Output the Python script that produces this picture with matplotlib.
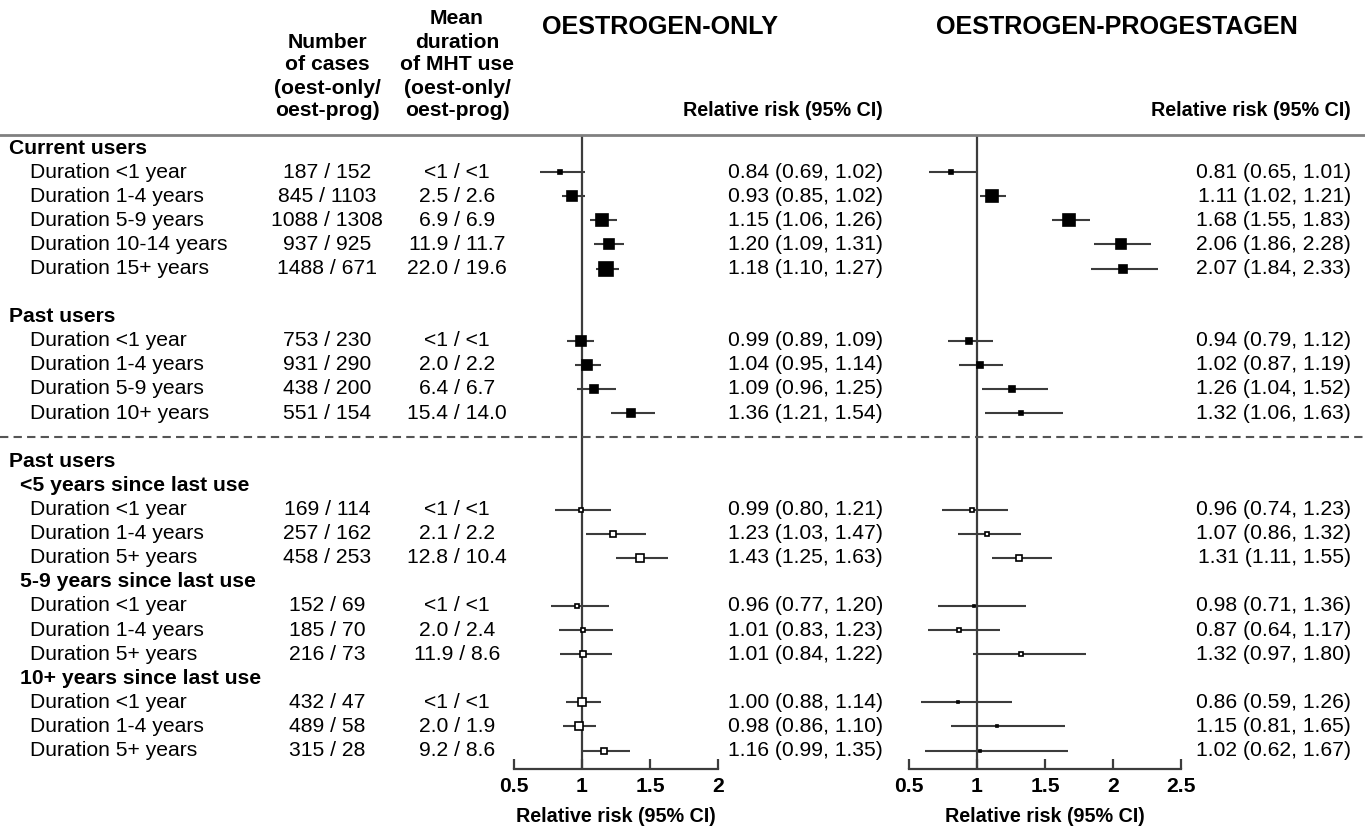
#!/usr/bin/env python3
"""
Forest plot: relative risk by MHT type, current/past use and duration.
"""

import matplotlib
matplotlib.use("Agg")
import matplotlib.pyplot as plt
import matplotlib.transforms as mtransforms
from matplotlib.lines import Line2D
import numpy as np


plt.rcParams["font.family"] = ["Liberation Sans", "DejaVu Sans"]
plt.rcParams["font.size"] = 15.2

# ---- data (one entry per table row; None where a row holds no estimate) ----
labels = [
    "Current users", "Duration <1 year", "Duration 1-4 years", "Duration 5-9 years",
    "Duration 10-14 years", "Duration 15+ years", "",
    "Past users", "Duration <1 year", "Duration 1-4 years", "Duration 5-9 years",
    "Duration 10+ years", "",
    "Past users", "<5 years since last use",
    "Duration <1 year", "Duration 1-4 years", "Duration 5+ years",
    "5-9 years since last use",
    "Duration <1 year", "Duration 1-4 years", "Duration 5+ years",
    "10+ years since last use",
    "Duration <1 year", "Duration 1-4 years", "Duration 5+ years",
]
kinds = [
    "group", "row", "row", "row", "row", "row", "blank",
    "group", "row", "row", "row", "row", "rule",
    "group", "sub", "row", "row", "row",
    "sub", "row", "row", "row",
    "sub", "row", "row", "row",
]
cases = [
    None, "187 / 152", "845 / 1103", "1088 / 1308", "937 / 925", "1488 / 671", None,
    None, "753 / 230", "931 / 290", "438 / 200", "551 / 154", None,
    None, None, "169 / 114", "257 / 162", "458 / 253",
    None, "152 / 69", "185 / 70", "216 / 73",
    None, "432 / 47", "489 / 58", "315 / 28",
]
mean_duration = [
    None, "<1 / <1", "2.5 / 2.6", "6.9 / 6.9", "11.9 / 11.7", "22.0 / 19.6", None,
    None, "<1 / <1", "2.0 / 2.2", "6.4 / 6.7", "15.4 / 14.0", None,
    None, None, "<1 / <1", "2.1 / 2.2", "12.8 / 10.4",
    None, "<1 / <1", "2.0 / 2.4", "11.9 / 8.6",
    None, "<1 / <1", "2.0 / 1.9", "9.2 / 8.6",
]
oe_rr = [None, 0.84, 0.93, 1.15, 1.20, 1.18, None,
         None, 0.99, 1.04, 1.09, 1.36, None,
         None, None, 0.99, 1.23, 1.43, None, 0.96, 1.01, 1.01, None, 1.00, 0.98, 1.16]
oe_lo = [None, 0.69, 0.85, 1.06, 1.09, 1.10, None,
         None, 0.89, 0.95, 0.96, 1.21, None,
         None, None, 0.80, 1.03, 1.25, None, 0.77, 0.83, 0.84, None, 0.88, 0.86, 0.99]
oe_hi = [None, 1.02, 1.02, 1.26, 1.31, 1.27, None,
         None, 1.09, 1.14, 1.25, 1.54, None,
         None, None, 1.21, 1.47, 1.63, None, 1.20, 1.23, 1.22, None, 1.14, 1.10, 1.35]
ep_rr = [None, 0.81, 1.11, 1.68, 2.06, 2.07, None,
         None, 0.94, 1.02, 1.26, 1.32, None,
         None, None, 0.96, 1.07, 1.31, None, 0.98, 0.87, 1.32, None, 0.86, 1.15, 1.02]
ep_lo = [None, 0.65, 1.02, 1.55, 1.86, 1.84, None,
         None, 0.79, 0.87, 1.04, 1.06, None,
         None, None, 0.74, 0.86, 1.11, None, 0.71, 0.64, 0.97, None, 0.59, 0.81, 0.62]
ep_hi = [None, 1.01, 1.21, 1.83, 2.28, 2.33, None,
         None, 1.12, 1.19, 1.52, 1.63, None,
         None, None, 1.23, 1.32, 1.55, None, 1.36, 1.17, 1.80, None, 1.26, 1.65, 1.67]
first_time_since_row = kinds.index("sub")  # rows drawn with open boxes from here

# ---- layout (pixels in a 1365 x 835 canvas) ----
W, H = 1365, 835
ROW0, PITCH = 148, 24.1
AX_TOP, AX_BOT = 135, 769
LINE_COL = "#3c3c3c"
RR_LABEL_SIZE = 14.2


def fx(px):
    return px / W


def fy(py):
    return 1 - py / H


def draw_panel(ax, rr, lo, hi, xmax, ticks):
    ax.set_xlim(0.5, xmax)
    ax.set_ylim((AX_BOT - ROW0) / PITCH, (AX_TOP - ROW0) / PITCH)
    ax.axvline(1, color=LINE_COL, lw=1.6, zorder=1)
    for i, (r, l, h) in enumerate(zip(rr, lo, hi)):
        if r is None:
            continue
        ax.plot([l, h], [i, i], color=LINE_COL, lw=1.5, solid_capstyle="butt", zorder=2)
        size = max(1.37 / np.log(h / l), 1.5)
        face = "white" if i >= first_time_since_row else "black"
        ax.plot(r, i, marker="s", ms=size, mfc=face, mec="black", mew=1.2,
                linestyle="none", zorder=3)
    for side in ("left", "right", "top"):
        ax.spines[side].set_visible(False)
    ax.spines["bottom"].set_color(LINE_COL)
    ax.spines["bottom"].set_linewidth(1.6)
    ax.set_yticks([])
    ax.set_xticks(ticks)
    ax.set_xticklabels([f"{t:g}" for t in ticks], fontweight="bold")
    ax.tick_params(axis="x", direction="in", length=7, width=1.6, color=LINE_COL, pad=6)
    ax.set_xlabel("Relative risk (95% CI)", fontweight="bold", fontsize=RR_LABEL_SIZE,
                  labelpad=8)


def main():
    fig = plt.figure(figsize=(W / 100, H / 100), dpi=100)
    ax_oe = fig.add_axes([fx(514), fy(AX_BOT), fx(718 - 514), (AX_BOT - AX_TOP) / H])
    ax_ep = fig.add_axes([fx(909), fy(AX_BOT), fx(1181 - 909), (AX_BOT - AX_TOP) / H])

    draw_panel(ax_oe, oe_rr, oe_lo, oe_hi, 2.0, [0.5, 1, 1.5, 2])
    draw_panel(ax_ep, ep_rr, ep_lo, ep_hi, 2.5, [0.5, 1, 1.5, 2, 2.5])

    # text columns share the row scale of the forest panels
    tr = mtransforms.blended_transform_factory(fig.transFigure, ax_oe.transData)
    indent = {"group": 9, "sub": 20, "row": 30}
    for i, (lab, kind) in enumerate(zip(labels, kinds)):
        if kind in indent:
            fig.text(fx(indent[kind]), i, lab, transform=tr, ha="left", va="center",
                     fontweight="bold" if kind != "row" else "normal")
        if kind == "rule":
            fig.add_artist(Line2D([0, 1], [i, i], transform=tr, color="#555555", lw=1.5,
                                  linestyle=(0, (4, 2.5))))
        if cases[i] is not None:
            fig.text(fx(327), i, cases[i], transform=tr, ha="center", va="center")
            fig.text(fx(457), i, mean_duration[i], transform=tr, ha="center", va="center")
        if oe_rr[i] is not None:
            fig.text(fx(883), i, f"{oe_rr[i]:.2f} ({oe_lo[i]:.2f}, {oe_hi[i]:.2f})",
                     transform=tr, ha="right", va="center")
            fig.text(fx(1351), i, f"{ep_rr[i]:.2f} ({ep_lo[i]:.2f}, {ep_hi[i]:.2f})",
                     transform=tr, ha="right", va="center")

    # top rule
    fig.add_artist(Line2D([0, 1], [fy(AX_TOP), fy(AX_TOP)], transform=fig.transFigure,
                          color="#808080", lw=2))

    # column headers
    hdr_cases = ["Number", "of cases", "(oest-only/", "oest-prog)"]
    hdr_dur = ["Mean", "duration", "of MHT use", "(oest-only/", "oest-prog)"]
    for col_x, lines in ((327, hdr_cases), (457, hdr_dur)):
        n = len(lines)
        for k, line in enumerate(lines):
            fig.text(fx(col_x), fy(111 - 23 * (n - 1 - k)), line, ha="center", va="center",
                     fontweight="bold")
    fig.text(fx(660), fy(27), "OESTROGEN-ONLY", ha="center", va="center",
             fontweight="bold", fontsize=18.1)
    fig.text(fx(1117), fy(27), "OESTROGEN-PROGESTAGEN", ha="center", va="center",
             fontweight="bold", fontsize=18.1)
    fig.text(fx(883), fy(111), "Relative risk (95% CI)", ha="right", va="center",
             fontweight="bold", fontsize=RR_LABEL_SIZE)
    fig.text(fx(1351), fy(111), "Relative risk (95% CI)", ha="right", va="center",
             fontweight="bold", fontsize=RR_LABEL_SIZE)

    fig.savefig("out.png", dpi=100)


if __name__ == "__main__":
    main()
